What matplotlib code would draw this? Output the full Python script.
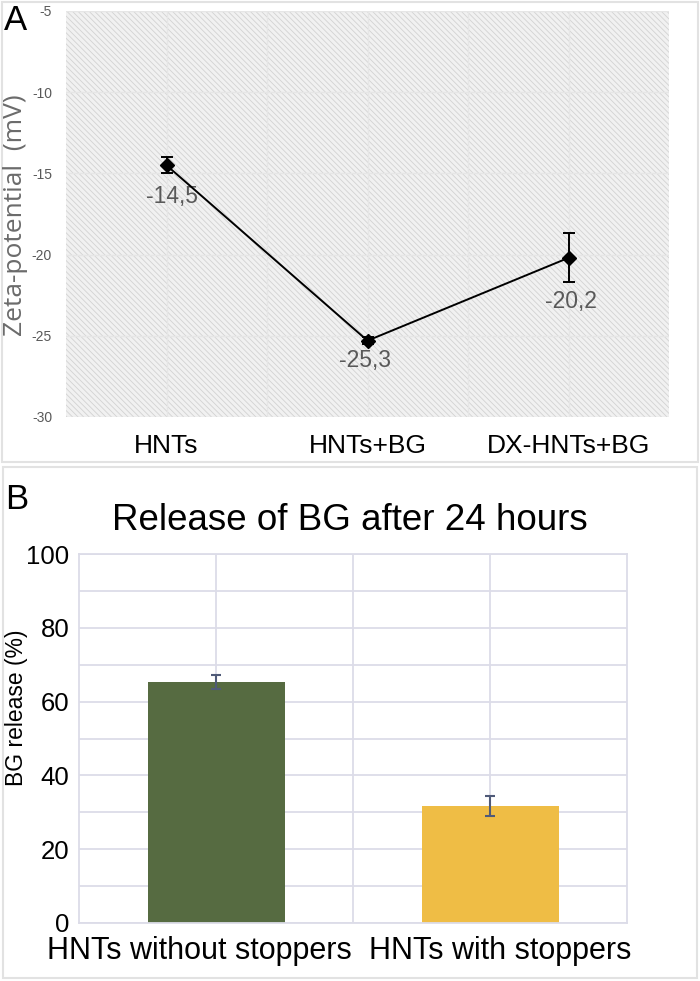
import numpy as np
import matplotlib
matplotlib.use("Agg")
import matplotlib.pyplot as plt
import matplotlib.transforms as mtransforms
from matplotlib.patches import Rectangle

plt.rcParams["axes.unicode_minus"] = False
plt.rcParams["hatch.linewidth"] = 0.6

# panel A: zeta potential
zeta_groups = ["HNTs", "HNTs+BG", "DX-HNTs+BG"]
zeta_pos = [1, 3, 5]
zeta_vals = [-14.5, -25.3, -20.2]
zeta_err = [0.5, 0.2, 1.5]
zeta_text = ["-14,5", "-25,3", "-20,2"]

# panel B: release after 24 h
rel_groups = ["HNTs without stoppers", "HNTs with stoppers"]
rel_vals = [65.3, 31.7]
rel_err = [1.8, 2.8]
rel_colors = ["#566b41", "#efbd45"]

arial = ["Liberation Sans", "DejaVu Sans"]
segoe = ["Open Sans", "DejaVu Sans"]

W, H = 700, 981
fig = plt.figure(figsize=(W / 100, H / 100), dpi=100)

# light frames round each panel
fig.patches.append(Rectangle((2 / W, 1 - 462 / H), 696 / W, 460 / H, transform=fig.transFigure,
                             fill=False, edgecolor="#e2e2e2", lw=1.5))
fig.patches.append(Rectangle((3 / W, 1 - 978 / H), 694 / W, 511 / H, transform=fig.transFigure,
                             fill=False, edgecolor="#e2e2e2", lw=1.5))

# ---------------- A ----------------
ax = fig.add_axes([66 / W, 1 - 417 / H, 603 / W, 406 / H])
ax.add_patch(Rectangle((0, 0), 1, 1, transform=ax.transAxes, facecolor="#f1f1f1",
                       edgecolor="#d2d2d2", hatch="\\\\\\\\\\\\", lw=0, zorder=0))
ax.set_xlim(0, 6)
ax.set_ylim(-30, -5)
ax.set_yticks(np.arange(-30, -4, 5))
ax.set_xticks(range(1, 6), minor=True)
ax.set_xticks(zeta_pos)
ax.set_xticklabels(zeta_groups, fontsize=19, family=arial)
ax.grid(True, which="both", color="#e6e6e6", lw=1, zorder=1)
ax.tick_params(which="both", length=0)
ax.tick_params(axis="x", pad=12)
ax.tick_params(axis="y", labelsize=10, labelcolor="#595959", pad=10)
for t in ax.get_yticklabels():
    t.set_fontfamily(arial)
for s in ax.spines.values():
    s.set_visible(False)
ax.errorbar(zeta_pos, zeta_vals, yerr=zeta_err, color="black", lw=1.4, marker="D", ms=7.5,
            capsize=4, elinewidth=1.4, capthick=1.4, zorder=3)
for x, y, t, dx, dy in zip(zeta_pos, zeta_vals, zeta_text, [0.05, -0.02, 0.02], [-1.95, -1.2, -2.7]):
    ax.text(x + dx, y + dy, t, ha="center", va="center", fontsize=16.5, color="#595959", family=arial)
fig.text(16 / W, 1 - 215 / H, "Zeta-potential  (mV)", rotation=90, ha="center", va="center",
         fontsize=19, color="#6b6b6b", family=segoe)
fig.text(16 / W, 1 - 21 / H, "A", fontsize=25, ha="center", va="center", family=arial)

# ---------------- B ----------------
bx = fig.add_axes([79 / W, 1 - 923 / H, 548 / W, 369 / H])
bx.bar(range(2), rel_vals, width=0.5, color=rel_colors, zorder=2)
bx.errorbar(range(2), rel_vals, yerr=rel_err, fmt="none", ecolor="#4f5a78", capsize=3.5,
            elinewidth=1.5, capthick=1.5, zorder=3)
bx.set_xlim(-0.5, 1.5)
bx.set_ylim(0, 100)
bx.set_yticks(np.arange(0, 101, 20))
bx.set_yticks(np.arange(0, 101, 10), minor=True)
bx.set_xticks(range(2))
bx.set_xticklabels(rel_groups, fontsize=22, family=arial)
bx.set_xticks([0.5], minor=True)
bx.grid(True, which="both", color="#dcdce8", lw=1.3, zorder=0)
bx.tick_params(which="both", length=0)
bx.tick_params(axis="y", labelsize=18.5, pad=7)
bx.tick_params(axis="x", pad=9)
for t in bx.get_yticklabels():
    t.set_fontfamily(arial)
# nudge the two long category labels apart, as in the original
for t, off in zip(bx.get_xticklabels(), [-17, 10]):
    t.set_transform(t.get_transform() + mtransforms.ScaledTranslation(off / 100, 0, fig.dpi_scale_trans))
for s in bx.spines.values():
    s.set_color("#dcdce8")
    s.set_linewidth(1.3)
fig.text(17 / W, 1 - 708 / H, "BG release (%)", rotation=90, ha="center", va="center",
         fontsize=16.5, family=arial)
fig.text(350 / W, 1 - 521 / H, "Release of BG after 24 hours", ha="center", va="center",
         fontsize=26.5, family=arial)
fig.text(17 / W, 1 - 499 / H, "B", fontsize=25, ha="center", va="center", family=arial)

fig.savefig("out.png", dpi=100)
